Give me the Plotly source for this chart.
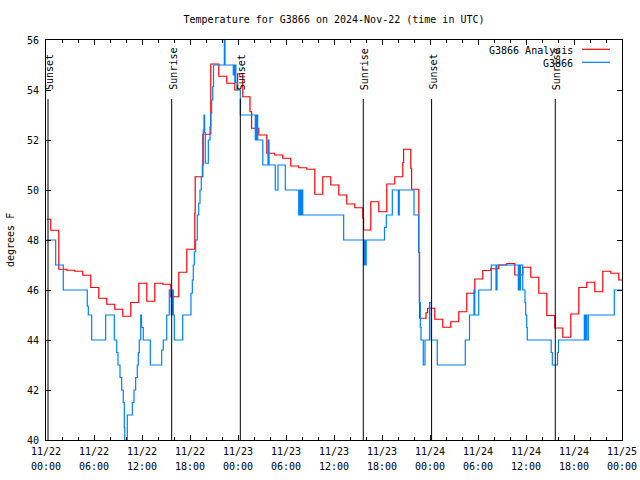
import pandas as pd
import plotly.graph_objects as go

# ---------------- data ----------------
BASE = pd.Timestamp("2024-11-22 00:00")

# G3866 Analysis (hours since 11/22 00:00 UTC, degrees F)
red_hours = [0.1, 0.6, 1.6, 2.6, 3.6, 4.6, 5.6, 6.6, 7.6, 8.6, 9.6, 10.6, 11.6,
             12.6, 13.6, 14.6, 15.6, 16.6, 17.6, 18.6, 18.65, 19.6, 20.6, 21.6,
             22.6, 23.6, 23.95, 24.6, 25.5, 25.7, 26.6, 27.6, 28.6, 29.6, 30.6,
             31.6, 32.6, 33.6, 34.6, 35.6, 36.6, 37.6, 38.6, 39.6, 39.7, 40.6,
             41.6, 42.6, 43.6, 44.6, 44.7, 45.6, 45.7, 46.6, 46.7, 47.5, 47.7,
             48.6, 49.6, 50.6, 51.6, 52.6, 53.6, 54.6, 55.6, 56.6, 57.6, 58.6,
             59.6, 60.6, 61.6, 62.6, 63.6, 64.6, 65.6, 66.6, 67.6, 68.6, 69.6,
             70.6, 71.6, 72.0]
red_temps = [48.83, 48.39, 46.83, 46.79, 46.75, 46.59, 46.10, 45.67, 45.43, 45.23,
             44.95, 45.50, 46.27, 45.55, 46.27, 46.23, 45.73, 46.71, 47.63, 49.07,
             50.53, 52.23, 55.04, 54.55, 54.27, 54.00, 54.65, 53.73, 53.13, 52.47,
             52.20, 51.47, 51.40, 51.27, 50.96, 50.89, 50.83, 49.83, 50.53, 50.20,
             49.80, 49.44, 49.29, 48.87, 48.40, 49.53, 49.13, 50.24, 50.53, 51.10,
             51.63, 50.87, 50.03, 47.50, 44.87, 45.09, 45.27, 44.83, 44.51, 44.73,
             45.13, 45.87, 46.44, 46.78, 46.85, 47.00, 47.06, 46.60, 46.91, 46.51,
             45.87, 44.98, 44.48, 44.11, 45.04, 46.10, 46.31, 45.93, 46.75, 46.67,
             46.40, 46.40]

# G3866 observations
blue_hours = [0.08, 1.21, 2.16, 5.16, 5.29, 5.71, 7.46, 8.54, 8.84, 9.0, 9.25, 9.46,
              9.66, 9.79, 9.84, 10.16, 10.79, 11.0, 11.21, 11.41, 11.54, 11.66,
              11.84, 11.94, 12.16, 13.04, 14.46, 14.66, 15.09, 15.41, 15.66, 15.72,
              15.79, 15.85, 15.91, 16.04, 17.09, 18.12, 18.29, 18.41, 18.54, 18.71,
              18.91, 19.09, 19.25, 19.41, 19.54, 19.66, 19.75, 19.83, 19.91, 20.29,
              20.5, 20.59, 20.71, 20.84, 20.94, 22.29, 22.375, 23.41, 23.54, 23.6,
              23.66, 23.73, 23.88, 24.29, 26.16, 26.25, 26.34, 26.4, 26.46, 27.1,
              27.75, 27.88, 28.66, 29.0, 29.91, 31.59, 31.69, 31.81, 31.94, 32.09,
              37.21, 39.71, 39.81, 39.91, 40.02, 42.31, 42.54, 43.29, 44.04, 44.16,
              46.0, 46.59, 46.66, 46.79, 46.875, 47.16, 47.375, 47.94, 48.15, 48.91,
              52.41, 52.94, 53.5, 53.59, 54.09, 55.66, 56.25, 56.375, 59.04, 59.125,
              59.19, 59.31, 59.59, 59.875, 59.96, 60.09, 60.16, 63.15, 63.29, 63.94,
              64.06, 67.29, 67.375, 67.5, 67.6, 67.79, 71.04, 72.0]
blue_temps = [48, 47, 46, 45.35, 45, 44, 45, 44, 43.5, 43, 42.5, 42,
              41.5, 40.5, 39.5, 41, 41.5, 42, 42.5, 43, 43.5, 44,
              45, 44.5, 44, 43, 43.6, 44, 45, 46, 45, 46,
              45, 46, 45, 44, 45, 45.87, 46.4, 47, 47.53, 48,
              49, 49.47, 50, 50.53, 51, 52.4, 53, 52.3, 51.07, 52,
              52.53, 53.07, 53.6, 54.13, 55, 56.5, 55, 54.6, 55, 54.3,
              55, 54.3, 54, 53, 52, 53, 52, 53, 52, 51,
              52, 51, 50, 51, 50, 49, 50, 49, 50, 49,
              48, 47, 48, 47, 48, 48.5, 49, 50, 49, 50,
              49, 47.5, 45.5, 44.5, 44, 43, 44, 45.5, 44, 43,
              44, 45, 46, 45, 46, 47, 46, 47, 46, 47,
              46, 47, 46, 45.5, 45, 44.5, 44, 43.5, 43, 43.5,
              44, 45, 44, 45, 44, 45, 46, 46]

# Sun events (hours since 11/22 00:00 UTC)
event_hours = [0.25, 15.71, 24.29, 39.66, 48.2, 63.66]
event_names = ["Sunset", "Sunrise", "Sunset", "Sunrise", "Sunset", "Sunrise"]

# x tick labels (every 6 h)
tick_hours = list(range(0, 73, 6))
tick_dates = ["11/22", "11/22", "11/22", "11/22", "11/23", "11/23", "11/23",
              "11/23", "11/24", "11/24", "11/24", "11/24", "11/25"]
tick_times = ["00:00", "06:00", "12:00", "18:00"] * 3 + ["00:00"]

series_names = ["G3866 Analysis", "G3866"]
series_colors = ["#ff0000", "#0080ff"]

# ---------------- figure ----------------
def to_dt(hours):
    return [BASE + pd.Timedelta(hours=h) for h in hours]

FONT = dict(family="DejaVu Sans Mono", size=10, color="black")
# larger nominal size only sets the line spacing of the two-line tick labels
TICK_FONT = dict(family="DejaVu Sans Mono", size=11.5, color="black")

fig = go.Figure()
fig.add_trace(go.Scatter(x=to_dt(red_hours), y=red_temps, mode="lines",
                         line=dict(color=series_colors[0], width=1.2, shape="hv"),
                         name=series_names[0], showlegend=False))
fig.add_trace(go.Scatter(x=to_dt(blue_hours), y=blue_temps, mode="lines",
                         line=dict(color=series_colors[1], width=1.2, shape="hv"),
                         name=series_names[1], showlegend=False))

FIG_W, FIG_H = 640, 480
PLOT_L, PLOT_T, PLOT_W, PLOT_H = 46, 40, 576, 400

def px_x(px):
    return (px - PLOT_L) / PLOT_W

def px_y(py):
    return (PLOT_T + PLOT_H - py) / PLOT_H

shapes = []
annotations = []
for h, name in zip(event_hours, event_names):
    t = BASE + pd.Timedelta(hours=h)
    shapes.append(dict(type="line", xref="x", yref="paper", x0=t, x1=t,
                       y0=0, y1=px_y(99), line=dict(color="black", width=1)))
    annotations.append(dict(text=name, x=t, xref="x", y=px_y(92), yref="paper",
                            textangle=-90, xanchor="center", yanchor="bottom",
                            showarrow=False, font=FONT, xshift=1))

# custom legend (text then sample line, like the original)
for i, (nm, col) in enumerate(zip(series_names, series_colors)):
    ty = 50 + 13 * i
    annotations.append(dict(text=nm, x=px_x(575), xref="paper", y=px_y(ty),
                            yref="paper", xanchor="right", yanchor="middle",
                            showarrow=False, font=FONT))
    shapes.append(dict(type="line", xref="paper", yref="paper",
                       x0=px_x(582), x1=px_x(610), y0=px_y(ty - 0.7), y1=px_y(ty - 0.7),
                       line=dict(color=col, width=1.2)))

annotations.append(dict(text="degrees F", x=px_x(10), xref="paper", y=0.5,
                        yref="paper", textangle=-90, showarrow=False, font=FONT,
                        xanchor="center", yanchor="middle"))

fig.update_layout(
    width=FIG_W, height=FIG_H,
    margin=dict(l=PLOT_L, r=FIG_W - PLOT_L - PLOT_W, t=PLOT_T,
                b=FIG_H - PLOT_T - PLOT_H, autoexpand=False),
    paper_bgcolor="white", plot_bgcolor="white",
    font=FONT,
    title=dict(text="Temperature for G3866 on 2024-Nov-22 (time in UTC)",
               x=0.5, xref="paper", xanchor="center",
               y=1 - 19 / FIG_H, yanchor="middle", font=FONT, automargin=False),
    shapes=shapes, annotations=annotations,
    showlegend=False,
)
fig.update_xaxes(
    range=[BASE, BASE + pd.Timedelta(hours=72)],
    tickmode="array",
    tickvals=to_dt(tick_hours),
    ticktext=[f'<span style="font-size:10px">{d}</span><br>'
              f'<span style="font-size:10px">{t}</span>'
              for d, t in zip(tick_dates, tick_times)],
    ticks="inside", ticklen=5, tickcolor="black",
    minor=dict(ticks="inside", ticklen=3, dtick=2 * 3600 * 1000,
               tick0=BASE, tickcolor="black", showgrid=False),
    showline=True, linecolor="black", linewidth=1, mirror="ticks",
    showgrid=False, zeroline=False, tickfont=TICK_FONT, automargin=False,
)
fig.update_yaxes(
    range=[40, 56], dtick=2, tick0=40,
    ticks="inside", ticklen=5, tickcolor="black",
    showline=True, linecolor="black", linewidth=1, mirror="ticks",
    showgrid=False, zeroline=False, tickfont=FONT, ticklabelstandoff=4,
    automargin=False,
)

# remove the default 8 px page margin so the 640x480 figure fills the window
fig.write_html(
    "out.html",
    config={"displayModeBar": False},
    post_script="document.body.style.margin='0';document.body.style.overflow='hidden';",
)
